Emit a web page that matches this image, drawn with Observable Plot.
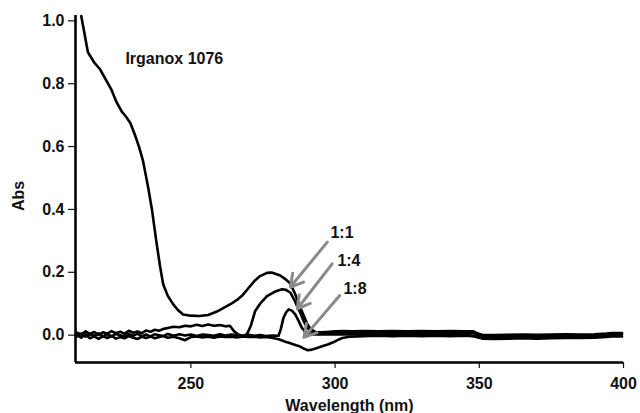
<!DOCTYPE html>
<html><head><meta charset="utf-8">
<script src="https://cdn.jsdelivr.net/npm/d3@7"></script>
<script src="https://cdn.jsdelivr.net/npm/@observablehq/plot@0.6"></script>
<style>body{margin:0;background:#fff}</style>
</head><body><div id="chart"></div>
<script>
// ---- data ----
const xTicks = [250, 300, 350, 400];
const yTicks = [0.0, 0.2, 0.4, 0.6, 0.8, 1.0];
const xLabel = "Wavelength (nm)";
const yLabel = "Abs";

const wlA = [212, 213, 214.3, 216.6, 218.5, 220.7, 222.5, 224.2, 226, 227.6, 229, 230.5, 232, 233.4, 235.2, 236.5, 238, 239.3, 240.4, 242, 243.9, 245.5, 247.3, 250, 253, 256, 259, 262, 264, 266, 268, 270, 272.3, 274, 276.4, 278, 281, 282.5, 284.2, 285.2, 286.2, 287, 288, 289, 290.3, 291.5, 293.2, 295, 297, 300, 303, 306, 310, 315, 320, 325, 330, 335, 340, 345, 348, 349.5, 351, 355, 360, 365, 370, 375, 380, 385, 390, 394, 396, 399.5];
const valA = [1.015, 0.965, 0.9, 0.866, 0.846, 0.81, 0.78, 0.742, 0.712, 0.694, 0.675, 0.64, 0.6, 0.555, 0.47, 0.4, 0.3, 0.22, 0.162, 0.125, 0.098, 0.08, 0.066, 0.062, 0.061, 0.064, 0.075, 0.09, 0.1, 0.112, 0.128, 0.15, 0.175, 0.188, 0.198, 0.199, 0.19, 0.18, 0.167, 0.15, 0.13, 0.11, 0.087, 0.065, 0.036, 0.02, 0.01, 0.009, 0.01, 0.012, 0.013, 0.012, 0.013, 0.012, 0.013, 0.012, 0.013, 0.012, 0.013, 0.012, 0.012, 0.005, 0.001, 0.0, 0.001, 0.002, 0.001, 0.002, 0.003, 0.002, 0.003, 0.005, 0.007, 0.007];

const wlB = [210.5, 212, 213.5, 215, 216.5, 218, 219.5, 221, 222.5, 224, 225.5, 227, 228.5, 230, 231.5, 233, 234.5, 236, 237.5, 239, 240.5, 242, 244, 246, 248, 250, 252, 254, 256, 258, 260, 262, 263.5, 265, 266.5, 268.2, 269.5, 270.8, 272.3, 274, 276.4, 279, 281.6, 283, 284.5, 286, 286.8, 288, 289.1, 290.3, 291.4, 293, 296, 300, 305, 310, 315, 320, 325, 330, 335, 340, 345, 348, 349.5, 351, 355, 360, 365, 370, 375, 380, 385, 390, 394, 396, 399.5];
const valB = [0.008, 0.002, 0.012, 0.004, 0.01, 0.001, 0.009, 0.005, 0.013, 0.006, 0.011, 0.004, 0.014, 0.008, 0.012, 0.006, 0.015, 0.011, 0.017, 0.014, 0.02, 0.023, 0.027, 0.025, 0.03, 0.028, 0.033, 0.029, 0.034, 0.03, 0.032, 0.028, 0.03, 0.012, 0.002, -0.003, 0.004, 0.03, 0.077, 0.1, 0.124, 0.138, 0.146, 0.144, 0.135, 0.11, 0.093, 0.07, 0.045, 0.025, 0.013, 0.008, 0.007, 0.007, 0.008, 0.007, 0.008, 0.007, 0.008, 0.007, 0.008, 0.007, 0.008, 0.007, 0.001, -0.004, -0.005, -0.004, -0.003, -0.004, -0.003, -0.002, -0.002, -0.001, 0.001, 0.003, 0.003];

const wlC = [210.5, 212, 213.5, 215, 216.5, 218, 219.5, 221, 222.5, 224, 225.5, 227, 228.5, 230, 231.5, 233, 234.5, 236, 237.5, 239, 240.5, 242, 244, 246, 248, 250, 252, 254, 256, 258, 260, 262, 264, 266, 268, 270, 272, 274, 276, 278, 280.4, 281.2, 282.1, 283, 283.9, 285, 286.2, 287.3, 288.5, 289.5, 290.5, 291.4, 293, 296, 300, 305, 310, 315, 320, 325, 330, 335, 340, 345, 348, 349.5, 351, 355, 360, 365, 370, 375, 380, 385, 390, 394, 396, 399.5];
const valC = [-0.004, 0.005, -0.005, 0.003, -0.002, 0.006, -0.004, 0.003, -0.004, 0.004, 0.0, -0.005, 0.004, -0.002, 0.005, -0.004, 0.002, -0.004, 0.003, 0.0, -0.003, 0.004, -0.002, 0.003, -0.001, 0.002, -0.003, 0.002, 0.0, -0.002, 0.003, -0.001, 0.002, 0.0, -0.002, 0.001, -0.002, 0.0, -0.003, -0.001, -0.002, 0.02, 0.055, 0.072, 0.082, 0.078, 0.066, 0.046, 0.023, 0.012, 0.006, 0.003, 0.002, 0.002, 0.003, 0.002, 0.003, 0.002, 0.003, 0.002, 0.003, 0.002, 0.003, 0.002, -0.003, -0.007, -0.008, -0.007, -0.006, -0.007, -0.006, -0.005, -0.005, -0.004, -0.002, 0.0, 0.0];

const wlD = [210.5, 212, 213.5, 215, 216.5, 218, 219.5, 221, 222.5, 224, 225.5, 227, 228.5, 230, 231.5, 233, 234.5, 236, 237.5, 239, 240.5, 242, 244, 246, 248, 250, 252, 254, 256, 258, 260, 262, 264, 266, 268, 270, 272, 274, 276, 278, 280.5, 282.5, 284.5, 286.5, 287.6, 289, 290.5, 292, 294, 296, 297.7, 299.5, 301, 302.5, 305, 310, 315, 320, 325, 330, 335, 340, 345, 348, 349.5, 351, 355, 360, 365, 370, 375, 380, 385, 390, 394, 396, 399.5];
const valD = [0.0, -0.008, 0.003, -0.01, -0.004, -0.012, -0.003, -0.009, -0.002, -0.011, -0.006, -0.01, -0.003, -0.008, -0.012, -0.005, -0.009, -0.004, -0.01, -0.006, -0.003, -0.008, -0.005, -0.01, -0.016, -0.006, -0.004, -0.007, -0.005, -0.008, -0.004, -0.006, -0.005, -0.007, -0.004, -0.006, -0.005, -0.007, -0.006, -0.008, -0.013, -0.02, -0.026, -0.032, -0.035, -0.042, -0.048, -0.046, -0.04, -0.034, -0.029, -0.022, -0.015, -0.009, -0.005, -0.003, -0.002, -0.003, -0.002, -0.003, -0.002, -0.003, -0.002, -0.003, -0.007, -0.011, -0.012, -0.011, -0.01, -0.011, -0.01, -0.009, -0.009, -0.008, -0.006, -0.004, -0.004];

const seriesNames = ["Irganox 1076", "1:1", "1:4", "1:8"];

// annotations (data coordinates)
const labelText = ["Irganox 1076", "1:1", "1:4", "1:8"];
const labelX = [227.3, 298.4, 300.8, 302.9];
const labelY = [0.880, 0.327, 0.237, 0.148];
const arrowX1 = [297.3, 299.0, 301.6];
const arrowY1 = [0.296, 0.227, 0.126];
const arrowX2 = [284.5, 286.9, 289.2];
const arrowY2 = [0.153, 0.084, -0.007];

// ---- build tables ----
const wls = [wlA, wlB, wlC, wlD];
const vals = [valA, valB, valC, valD];
const rows = [];
seriesNames.forEach((s, i) => wls[i].forEach((w, j) => rows.push({series: s, wl: w, abs: vals[i][j]})));
const labels = labelText.map((t, i) => ({t, x: labelX[i], y: labelY[i]}));
const arrows = arrowX1.map((x1, i) => ({x1, y1: arrowY1[i], x2: arrowX2[i], y2: arrowY2[i]}));

const xMin = 210, xMax = 400, yMin = -0.087, yMax = 1.017;

const chart = Plot.plot({
  width: 640, height: 413,
  marginLeft: 75, marginRight: 17, marginTop: 15, marginBottom: 51,
  style: {fontFamily: "'Liberation Sans', Arial, sans-serif", fontSize: "16px", fontWeight: "bold", color: "#111", background: "#fff"},
  x: {domain: [xMin, xMax]},
  y: {domain: [yMin, yMax]},
  marks: [
    Plot.axisX({ticks: xTicks, tickSize: 6, tickPadding: 9, label: null, strokeWidth: 1.2, tickFormat: d3.format("d")}),
    Plot.axisY({ticks: yTicks, tickSize: 7, tickPadding: 4, tickFormat: d3.format(".1f"), label: null, strokeWidth: 1.2}),
    Plot.line(rows, {x: "wl", y: "abs", z: "series", stroke: "#000", strokeWidth: 2.6, strokeLinejoin: "round"}),
    Plot.ruleX([xMin], {stroke: "#000", strokeWidth: 2.6}),
    Plot.ruleY([yMin], {stroke: "#000", strokeWidth: 2.6}),
    Plot.arrow(arrows, {x1: "x1", y1: "y1", x2: "x2", y2: "y2", stroke: "#8a8a8a", strokeWidth: 3, headLength: 7}),
    Plot.text(labels, {x: "x", y: "y", text: "t", textAnchor: "start", lineAnchor: "middle", fill: "#111"}),
    Plot.text([yLabel], {frameAnchor: "left", text: d => d, dx: -57, dy: 7, rotate: -90, textAnchor: "middle", lineAnchor: "middle", fill: "#111"}),
    Plot.text([xLabel], {frameAnchor: "bottom", text: d => d, dy: 43, textAnchor: "middle", lineAnchor: "middle", fill: "#111"})
  ]
});
document.getElementById("chart").appendChild(chart);
</script>
</body></html>
